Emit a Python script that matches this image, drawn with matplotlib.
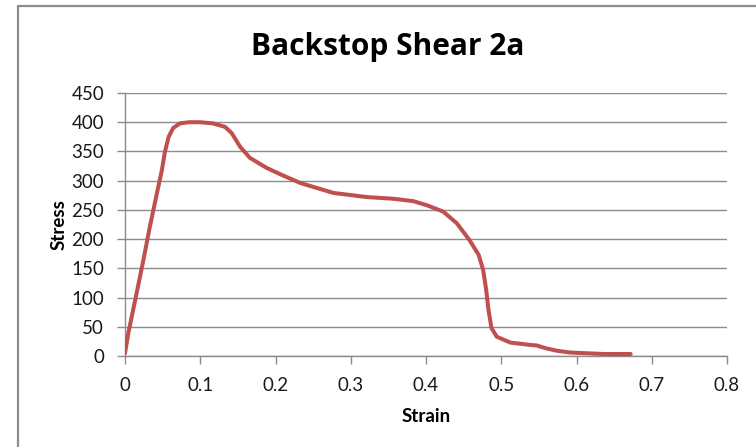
import matplotlib
matplotlib.use("Agg")
import matplotlib.pyplot as plt
from matplotlib.patches import Rectangle

# Measured stress-strain response of the backstop shear specimen
strain = [0.000, 0.0044, 0.0155, 0.0244, 0.033, 0.042, 0.049, 0.053, 0.058,
          0.064, 0.073, 0.085, 0.0997, 0.117, 0.133, 0.142, 0.153, 0.166,
          0.188, 0.208, 0.233, 0.277, 0.321, 0.357, 0.383, 0.401,
          0.423, 0.441, 0.458, 0.470, 0.476, 0.480, 0.483, 0.487, 0.494,
          0.512, 0.538, 0.547, 0.560, 0.574, 0.591, 0.636, 0.672]
stress = [5, 39, 108, 164, 221, 276, 318, 349, 375,
          390, 398, 400, 400, 398, 392, 381, 358, 339,
          322, 310, 296, 279, 272, 269, 265, 258,
          247, 227, 198, 173, 147, 113, 79, 48, 33,
          23, 19, 18, 13, 9, 6, 3.4, 3.4]

title = "Backstop Shear 2a"
xlabel = "Strain"
ylabel = "Stress"
xticks = [0, 0.1, 0.2, 0.3, 0.4, 0.5, 0.6, 0.7, 0.8]
xticklabels = ["0", "0.1", "0.2", "0.3", "0.4", "0.5", "0.6", "0.7", "0.8"]
yticks = [0, 50, 100, 150, 200, 250, 300, 350, 400, 450]

plt.rcParams["font.family"] = ["Lato", "DejaVu Sans"]

W, H = 756, 447
fig = plt.figure(figsize=(W / 100, H / 100), dpi=100)

# chart-area frame
fig.patches.append(Rectangle((17.5 / W, -0.1), 1.2, 1 - 6.3 / H + 0.1,
                             transform=fig.transFigure, fill=False,
                             edgecolor="#8c8c8c", linewidth=1.6))

ax = fig.add_axes([125 / W, 1 - 356 / H, (727 - 125) / W, (356 - 93) / H])
ax.plot(strain, stress, color="#C0504D", linewidth=2.9, solid_capstyle="round",
        solid_joinstyle="round", zorder=3)

ax.set_xlim(0, 0.8)
ax.set_ylim(0, 450)
ax.set_xticks(xticks)
ax.set_xticklabels(xticklabels)
ax.set_yticks(yticks)

grid_c = "#8c8c8c"
ax.yaxis.grid(True, color=grid_c, linewidth=1.0)
ax.set_axisbelow(True)
for s in ["top", "right"]:
    ax.spines[s].set_visible(False)
for s in ["left", "bottom"]:
    ax.spines[s].set_color(grid_c)
    ax.spines[s].set_linewidth(1.0)
ax.tick_params(axis="both", direction="out", length=6, width=1.0,
               color=grid_c, labelsize=13.5, labelcolor="#1a1a1a")
ax.tick_params(axis="y", pad=9)
ax.tick_params(axis="x", pad=9)

ax.set_xlabel(xlabel, fontsize=13.5, fontweight="bold", labelpad=10)
ax.set_ylabel(ylabel, fontsize=13.5, fontweight="bold", labelpad=3)

fig.text(388 / W, 1 - 54.5 / H, title, ha="center", va="baseline",
         fontsize=21.5, fontweight="bold", color="#000000",
         family=["Open Sans", "DejaVu Sans"])

fig.savefig("out.png", dpi=100)
